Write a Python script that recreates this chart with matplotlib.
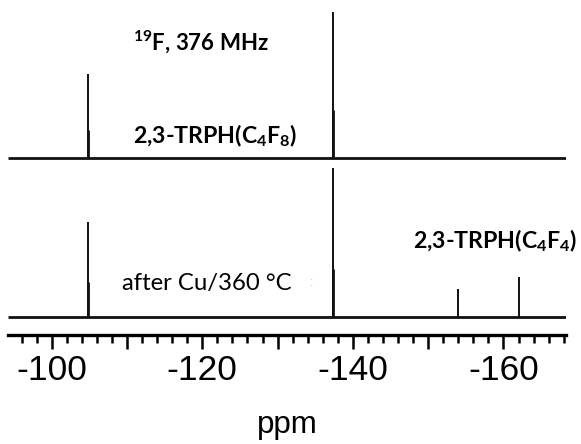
import numpy as np
import matplotlib
matplotlib.use('Agg')
import matplotlib.pyplot as plt
from matplotlib.ticker import MultipleLocator, FuncFormatter

# peak positions (ppm) and heights (a.u.), shoulder heights
top_ppm = [-104.8, -137.3]
top_height = [84, 146]
top_shoulder = [28, 48]

bottom_ppm = [-104.8, -137.3, -154.0, -162.0]
bottom_height = [95, 149, 28, 40]
bottom_shoulder = [35, 48, 0, 0]

top_offset = 177
bottom_offset = 18

ppm_range = (-94.2, -168.3)

plt.rcParams['font.family'] = ['Liberation Sans', 'DejaVu Sans']
plt.rcParams['mathtext.default'] = 'regular'

fig = plt.figure(figsize=(5.81, 4.44), dpi=100)
ax = fig.add_axes([8 / 581, (444 - 335) / 444, (566 - 8) / 581, 335 / 444])

for off, pos, h, sh in [(top_offset, top_ppm, top_height, top_shoulder),
                        (bottom_offset, bottom_ppm, bottom_height, bottom_shoulder)]:
    ax.hlines(off, ppm_range[0], ppm_range[1], color='#111111', lw=2.0)
    ax.vlines(pos, off, np.array(h) + off, color='#111111', lw=1.4)
    ax.vlines(pos, off, np.array(sh) + off, color='#111111', lw=2.0)

ax.set_xlim(ppm_range)
ax.set_ylim(0, 335)
for s in ['top', 'left', 'right']:
    ax.spines[s].set_visible(False)
ax.spines['bottom'].set_linewidth(2.4)
ax.set_yticks([])
ax.xaxis.set_major_locator(MultipleLocator(10))
ax.xaxis.set_minor_locator(MultipleLocator(2))
ax.xaxis.set_major_formatter(FuncFormatter(lambda v, p: '%d' % v if round(v) % 20 == 0 else ''))
ax.tick_params(axis='x', which='major', length=10, width=1.8, labelsize=25.5, pad=4)
ax.tick_params(axis='x', which='minor', length=5.5, width=1.8)
ax.set_xlabel('ppm', fontsize=22.5, labelpad=16)

lab = dict(family=['Lato', 'DejaVu Sans'])
fig.text(133 / 581, 1 - 50 / 444, '$^{19}$F, 376 MHz', fontweight='bold', fontsize=16, va='baseline', **lab)
fig.text(133 / 581, 1 - 143 / 444, '2,3-TRPH(C$_4$F$_8$)', fontweight='bold', fontsize=16.7, va='baseline', **lab)
fig.text(122 / 581, 1 - 290 / 444, 'after Cu/360 \u00b0C', fontsize=17.2, va='baseline', **lab)
fig.text(413 / 581, 1 - 248 / 444, '2,3-TRPH(C$_4$F$_4$)', fontweight='bold', fontsize=16.7, va='baseline', **lab)
fig.text(310 / 581, 1 - 286 / 444, ':', color='#bbbbbb', fontsize=9, va='baseline')

fig.savefig('out.png', dpi=100, facecolor='white')
